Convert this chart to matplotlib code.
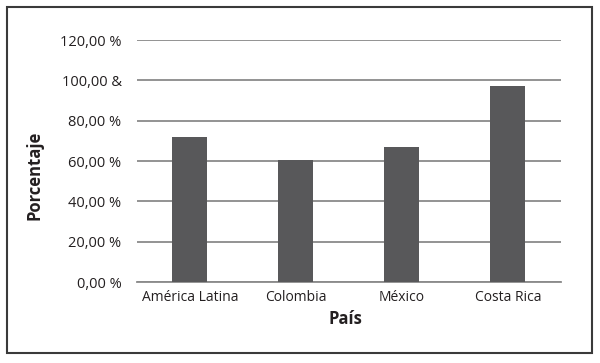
import matplotlib.pyplot as plt
from matplotlib.patches import Rectangle

plt.rcParams['font.family'] = ['Open Sans', 'DejaVu Sans']

paises = ['América Latina', 'Colombia', 'México', 'Costa Rica']
porcentajes = [72.0, 60.5, 67.0, 97.2]
y_ticks = [0, 20, 40, 60, 80, 100, 120]
y_labels = ['0,00 %', '20,00 %', '40,00 %', '60,00 %', '80,00 %', '100,00 &', '120,00 %']

fig = plt.figure(figsize=(6, 3.63), dpi=100)
ax = fig.add_axes([0.228, 0.2231, 0.707, 0.6667])

ax.bar(range(len(paises)), porcentajes, width=0.33, color='#58585a', zorder=3)

ax.set_xlim(-0.5, len(paises) - 0.5)
ax.set_ylim(0, 120)
ax.set_yticks(y_ticks)
ax.set_yticklabels(y_labels, fontsize=10.5, color='#231f20')
ax.set_xticks(range(len(paises)))
ax.set_xticklabels(paises, fontsize=10, color='#231f20')
ax.tick_params(axis='y', length=0, pad=11)
ax.tick_params(axis='x', length=0, pad=6)
ax.grid(axis='y', color='#8a8a8a', linewidth=1.3, zorder=0)

for s in ['top', 'right', 'left']:
    ax.spines[s].set_visible(False)
ax.spines['bottom'].set_color('#8a8a8a')
ax.spines['bottom'].set_linewidth(1.3)

fig.text(0.058, 0.518, 'Porcentaje', rotation=90, fontsize=12, fontweight='bold',
         ha='center', va='center', color='#231f20')
fig.text(0.575, 0.121, 'País', fontsize=12, fontweight='bold',
         ha='center', va='center', color='#231f20')

# marco exterior
fig.patches.append(Rectangle((7 / 600, 1 - 353 / 363), 585 / 600, 346 / 363,
                             transform=fig.transFigure, fill=False,
                             edgecolor='#3a3a3a', linewidth=1.5))

fig.savefig('out.png', dpi=100)
